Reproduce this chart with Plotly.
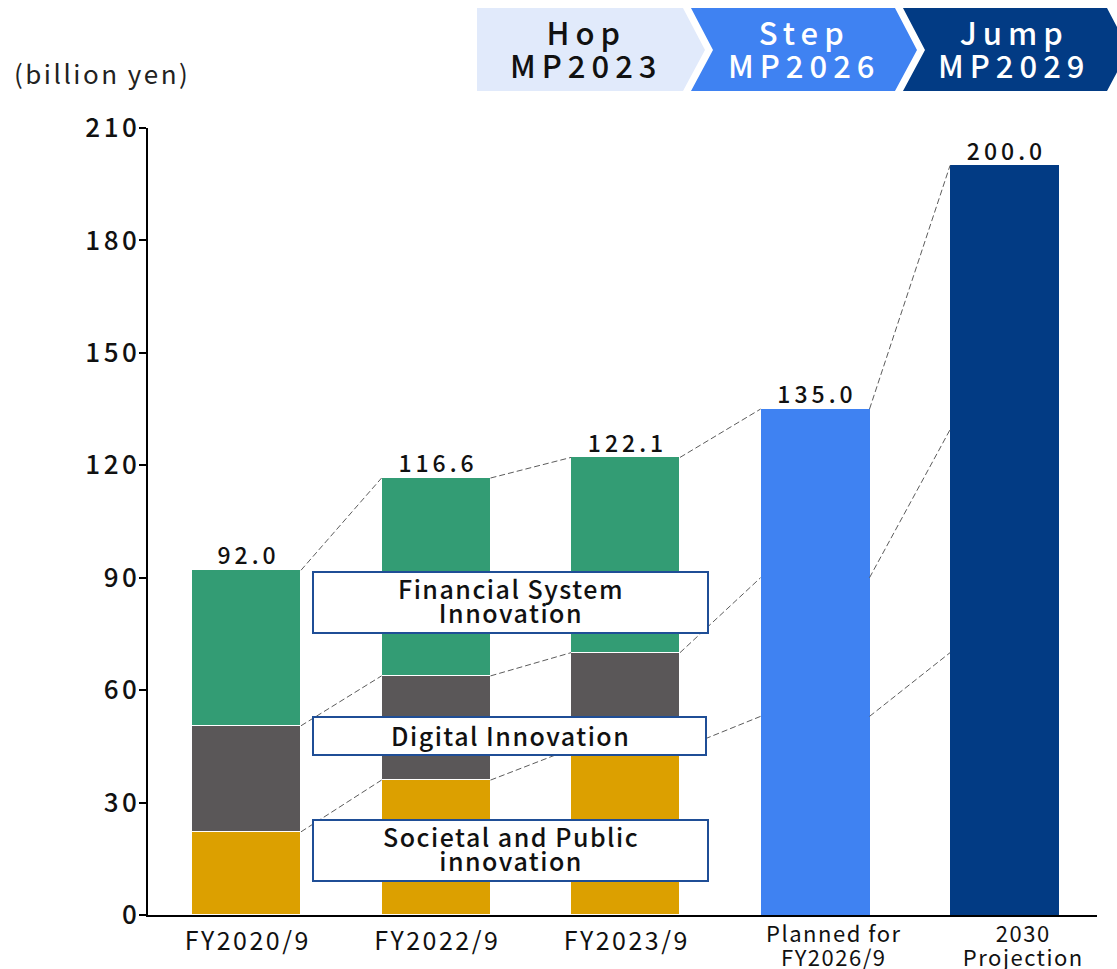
import plotly.graph_objects as go

# ---- data -------------------------------------------------------------
categories = ["FY2020/9", "FY2022/9", "FY2023/9", "Planned for<br>FY2026/9", "2030<br>Projection"]
societal = [22.2, 36.0, 44.3]
digital = [28.3, 27.8, 25.7]
financial = [41.5, 52.8, 52.1]
totals = [92.0, 116.6, 122.1, 135.0, 200.0]
# breakdown levels assumed inside the single target bars (used by connector lines)
target_societal = [53.0, 70.0]
target_digital = [37.0, 59.5]
y_ticks = [0, 30, 60, 90, 120, 150, 180, 210]
segment_labels = ["Financial System<br>Innovation", "Digital Innovation", "Societal and Public<br>innovation"]
phases = ["Hop<br>MP2023", "Step<br>MP2026", "Jump<br>MP2029"]
unit_label = "(billion yen)"

# ---- style ------------------------------------------------------------
FONT = "Noto Sans CJK JP"
GREEN = "#339C74"
GRAY = "#5A5758"
GOLD = "#DCA000"
BLUE = "#3F82F2"
NAVY = "#023B84"
PALE = "#E1EAFB"
BOX_LINE = "#1F4E96"

W, H = 1117, 969
L, R, T, B = 148, 20, 128, 54
PW, PH = W - L - R, H - T - B
BAR_W = 0.575
X_RANGE = [-0.52, 4.488]
TWO_LINE_SHIFT = 0.095   # two-line category captions sit a little right of the bar centre


def px(x):
    return (x - L) / PW


def py(y):
    return (T + PH - y) / PH


def tracked(s, sp, size=None, extra=""):
    """Letter-spaced text (spacing only between characters), optional font size."""
    fs = f"font-size:{size}px;" if size else ""
    if len(s) < 2:
        return f'<span style="{fs}{extra}">{s}</span>' if (fs or extra) else s
    head = f'<span style="{fs}{extra}letter-spacing:{sp}px">{s[:-1]}</span>'
    tail = f'<span style="{fs}{extra}">{s[-1]}</span>' if (fs or extra) else s[-1]
    return head + tail


def tracked_lines(s, sp, size=None, extra=""):
    return "<br>".join(tracked(part, sp, size, extra) for part in s.split("<br>"))


def tick_label(c):
    if "<br>" in c:
        return tracked_lines(c, 1.5, 22)
    return tracked(c, 2.5, 25, "baseline-shift:-8px;")


fig = go.Figure()

# ---- connector lines between bars -------------------------------------
lvl_soc = societal + target_societal
lvl_dig = [a + b for a, b in zip(societal, digital)] + [a + b for a, b in zip(target_societal, target_digital)]
for lvl in (lvl_soc, lvl_dig, totals):
    for i in range(len(lvl) - 1):
        fig.add_trace(go.Scatter(
            x=[i + BAR_W / 2, i + 1 - BAR_W / 2], y=[lvl[i], lvl[i + 1]],
            mode="lines", line=dict(color="#5c5c5c", width=1, dash="6px,3px"),
            hoverinfo="skip", showlegend=False))

# ---- stacked bars -----------------------------------------------------
xs = list(range(len(categories)))
for vals, col in ((societal, GOLD), (digital, GRAY), (financial, GREEN)):
    fig.add_trace(go.Bar(
        x=xs[:3], y=vals, width=BAR_W, marker=dict(color=col, line=dict(color="white", width=1)),
        showlegend=False, hoverinfo="skip"))

fig.add_trace(go.Bar(
    x=xs[3:], y=totals[3:], width=BAR_W, marker=dict(color=[BLUE, NAVY], line=dict(width=0)),
    showlegend=False, hoverinfo="skip"))

# ---- total labels -----------------------------------------------------
fig.add_trace(go.Scatter(
    x=xs, y=totals, mode="text", text=[tracked(f"{v:.1f}", 4) for v in totals],
    textposition="top center", textfont=dict(family=FONT, size=23, color="#111", weight=500),
    cliponaxis=False, hoverinfo="skip", showlegend=False))

shapes = []
annotations = []

# ---- segment label boxes ----------------------------------------------
boxes = [(313, 708, 572, 633, 600), (313, 706, 717, 755, 735), (313, 708, 820, 881, 848)]
for (x0, x1, y0, y1, yc), txt in zip(boxes, segment_labels):
    shapes.append(dict(type="rect", xref="paper", yref="paper", x0=px(x0), x1=px(x1), y0=py(y1), y1=py(y0),
                       fillcolor="white", line=dict(color=BOX_LINE, width=2), layer="above"))
    annotations.append(dict(xref="paper", yref="paper", x=px(510), y=py(yc),
                            text=tracked_lines(txt, 1.5, 25),
                            showarrow=False, xanchor="center", yanchor="middle",
                            font=dict(family=FONT, size=18.5, color="#111", weight=500)))

# ---- phase banner -----------------------------------------------------
chevrons = [
    ([(477, 8), (683, 8), (705, 50), (683, 91), (477, 91)], PALE, "#111", 583),
    ([(691, 8), (895, 8), (917, 50), (895, 91), (691, 91), (713, 50)], BLUE, "white", 801),
    ([(903, 8), (1107, 8), (1129, 50), (1107, 91), (903, 91), (925, 50)], NAVY, "white", 1011),
]
for (pts, fill, tcol, cx), txt in zip(chevrons, phases):
    path = "M " + " L ".join(f"{px(a):.5f},{py(b):.5f}" for a, b in pts) + " Z"
    shapes.append(dict(type="path", xref="paper", yref="paper", path=path, fillcolor=fill,
                       line=dict(width=0), layer="above"))
    annotations.append(dict(xref="paper", yref="paper", x=px(cx), y=py(48),
                            text=tracked_lines(txt, 6, 31),
                            showarrow=False, xanchor="center", yanchor="middle",
                            font=dict(family=FONT, size=25.5, color=tcol, weight=500)))

# ---- unit label -------------------------------------------------------
annotations.append(dict(xref="paper", yref="paper", x=px(12), y=py(72), text=tracked(unit_label, 2.5),
                        showarrow=False, xanchor="left", yanchor="middle",
                        font=dict(family=FONT, size=26, color="#222")))

tick_pos = [x + (TWO_LINE_SHIFT if "<br>" in c else 0) for x, c in zip(xs, categories)]

fig.update_layout(
    width=W, height=H,
    margin=dict(l=L, r=R, t=T, b=B, pad=0),
    barmode="stack",
    bargap=0,
    plot_bgcolor="white", paper_bgcolor="white",
    showlegend=False,
    font=dict(family=FONT, color="#111"),
    shapes=shapes,
    annotations=annotations,
    xaxis=dict(range=X_RANGE, tickmode="array", tickvals=tick_pos,
               ticktext=[tick_label(c) for c in categories],
               showline=True, linecolor="black", linewidth=2, ticks="", showgrid=False,
               zeroline=False, tickfont=dict(family=FONT, size=18.5, color="#111"),
               ticklabelstandoff=3, automargin=False, fixedrange=True),
    yaxis=dict(range=[0, 210], tickmode="array", tickvals=y_ticks,
               ticktext=[tracked(str(v), 3.5) for v in y_ticks],
               showline=True, linecolor="black", linewidth=2, ticks="outside", ticklen=7,
               tickwidth=2, tickcolor="black", showgrid=False, zeroline=False,
               tickfont=dict(family=FONT, size=26, color="#111", weight=500),
               ticklabelstandoff=-3, automargin=False, fixedrange=True),
)

fig.write_html("out.html")
